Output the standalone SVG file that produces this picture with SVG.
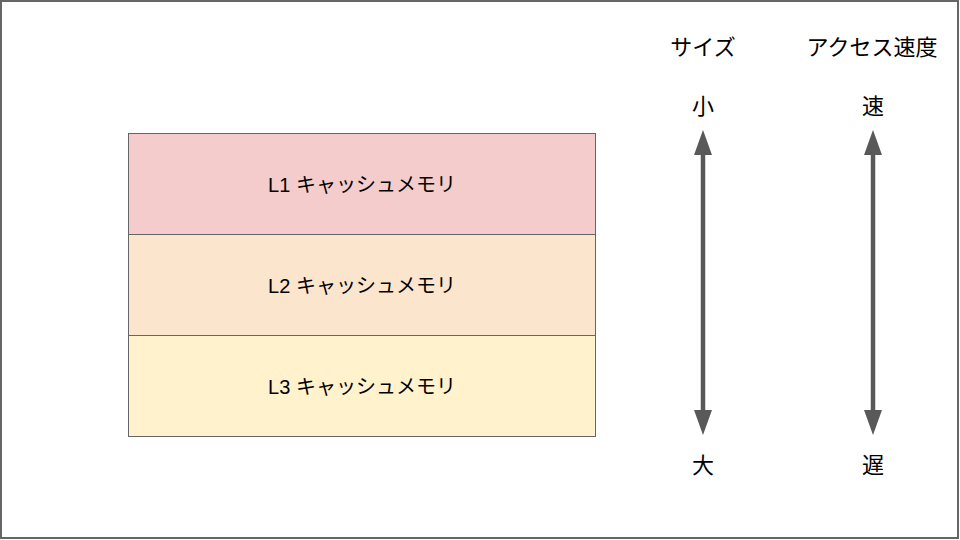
<svg xmlns="http://www.w3.org/2000/svg" width="960" height="540" viewBox="0 0 960 540">
<style>
.t{font-family:"Liberation Sans","Noto Sans CJK JP",sans-serif;font-size:20px;fill:#000;text-anchor:middle;dominant-baseline:central}
.h{font-size:22px}
.box{stroke:#666;stroke-width:1}
.ar{stroke:#595959;stroke-width:4.5;fill:none}
.hd{fill:#595959}
</style>
<rect x="1" y="1" width="957" height="537" fill="#fff" stroke="#666" stroke-width="2"/>
<g id="l1"><rect class="box" x="128.5" y="133.5" width="467" height="101" fill="#f4cccc"/><text class="t" x="362" y="185">L1 キャッシュメモリ</text></g>
<g id="l2"><rect class="box" x="128.5" y="234.5" width="467" height="101" fill="#fce5cd"/><text class="t" x="362" y="286">L2 キャッシュメモリ</text></g>
<g id="l3"><rect class="box" x="128.5" y="335.5" width="467" height="101" fill="#fff2cc"/><text class="t" x="362" y="387">L3 キャッシュメモリ</text></g>
<g id="size-label"><text class="t h" x="703" y="47">サイズ</text></g>
<g id="speed-label"><text class="t h" x="872" y="47">アクセス速度</text></g>
<g id="small"><text class="t h" x="703" y="106">小</text></g>
<g id="large"><text class="t h" x="703" y="465">大</text></g>
<g id="fast"><text class="t h" x="873" y="106">速</text></g>
<g id="slow"><text class="t h" x="873" y="465">遅</text></g>
<g id="connectors">
<line class="ar" x1="703" y1="154" x2="703" y2="411"/>
<polygon class="hd" points="703,130 712,155 694,155"/>
<polygon class="hd" points="703,435 712,410 694,410"/>
<line class="ar" x1="873" y1="154" x2="873" y2="411"/>
<polygon class="hd" points="873,130 882,155 864,155"/>
<polygon class="hd" points="873,435 882,410 864,410"/>
</g>
</svg>
